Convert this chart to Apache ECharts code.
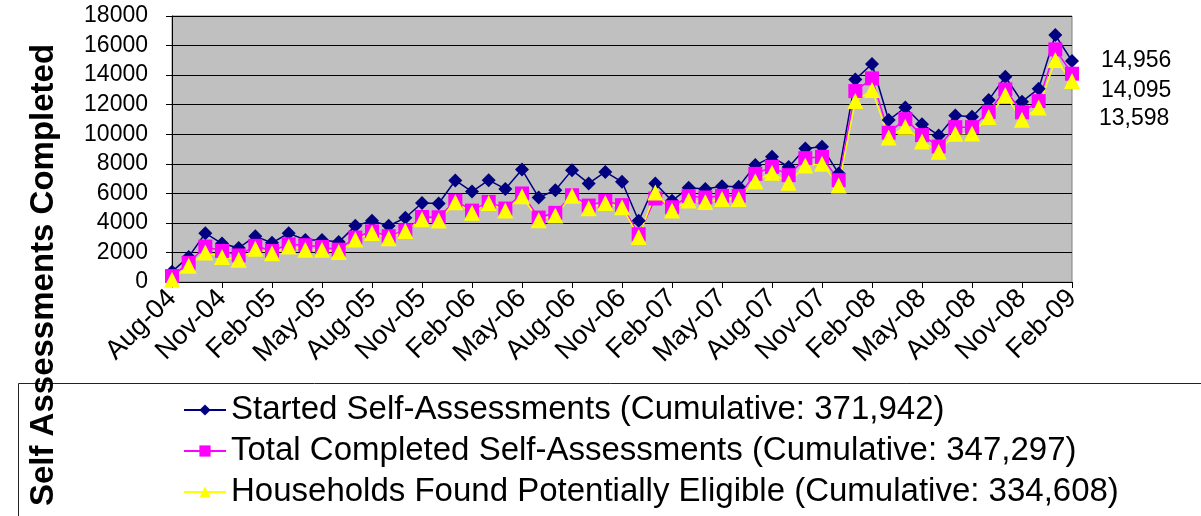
<!DOCTYPE html>
<html>
<head>
<meta charset="utf-8">
<script src="https://cdn.jsdelivr.net/npm/echarts@6/dist/echarts.min.js"></script>
<style>
  html, body { margin: 0; padding: 0; background: #fff; }
</style>
</head>
<body>
<div id="chart" style="width:1201px;height:516px"></div>

<script type="text/javascript">
var monthNames = ['Jan', 'Feb', 'Mar', 'Apr', 'May', 'Jun', 'Jul', 'Aug', 'Sep', 'Oct', 'Nov', 'Dec'];

// Aug-04 .. Feb-09, one per month
var months = [];
for (var y = 2004; y <= 2009; y++) {
    for (var m = 0; m < 12; m++) {
        if (y === 2004 && m < 7) continue;
        if (y === 2009 && m > 1) break;
        months.push(monthNames[m] + '-0' + (y % 100));
    }
}

var started = [700, 1700, 3300, 2600, 2300, 3100, 2650, 3300, 2850, 2850,
    2700, 3800, 4150, 3800, 4350, 5350, 5310, 6870, 6120, 6890,
    6300, 7610, 5720, 6210, 7570, 6670, 7450, 6780, 4140, 6670,
    5490, 6380, 6300, 6480, 6440, 7910, 8470, 7790, 9040, 9150,
    7340, 13710, 14750, 10960, 11810, 10680, 9920, 11270, 11180, 12310,
    13890, 12200, 13080, 16710, 14956];

var completed = [400, 1300, 2400, 2100, 1800, 2450, 2100, 2550, 2490, 2370,
    2190, 3010, 3430, 3100, 3500, 4400, 4380, 5500, 4830, 5420,
    4970, 5990, 4360, 4680, 5870, 5170, 5490, 5200, 3230, 5650,
    5060, 5810, 5720, 5830, 5830, 7320, 7790, 7230, 8380, 8470,
    6890, 12920, 13780, 10100, 11020, 9940, 9170, 10480, 10480, 11500,
    13030, 11480, 12240, 15740, 14095];

var eligible = [150, 1100, 2000, 1700, 1500, 2250, 1950, 2400, 2190, 2190,
    2030, 2870, 3320, 2960, 3450, 4250, 4170, 5400, 4680, 5350,
    4830, 5800, 4180, 4500, 5830, 4990, 5350, 5060, 3050, 6050,
    4830, 5510, 5420, 5620, 5620, 6820, 7390, 6710, 7890, 8000,
    6530, 12240, 12990, 9780, 10500, 9510, 8810, 10030, 10050, 11160,
    12650, 10980, 11810, 15020, 13598];

var seriesNames = [
    'Started Self-Assessments (Cumulative: 371,942)',
    'Total Completed Self-Assessments (Cumulative: 347,297)',
    'Households Found Potentially Eligible (Cumulative: 334,608)'
];

var FONT = 'Arial, "Liberation Sans", sans-serif';

// last point of each series gets a value label, nudged apart like the original
function withEndLabel(arr, dx, dy) {
    return arr.map(function (v, i) {
        if (i !== arr.length - 1) return v;
        return {
            value: v,
            label: {
                show: true,
                position: 'right',
                distance: 0,
                offset: [dx, dy],
                color: '#000',
                fontSize: 23,
                fontFamily: FONT,
                formatter: function (p) { return p.value.toLocaleString('en-US'); }
            }
        };
    });
}

var myChart = echarts.init(document.getElementById('chart'));

var option = {
    animation: false,
    backgroundColor: '#fff',
    grid: {
        left: 172,
        right: 129,
        top: 16,
        bottom: 234,
        show: true,
        backgroundColor: '#C0C0C0',
        borderColor: '#808080',
        borderWidth: 1
    },
    legend: {
        orient: 'vertical',
        left: 183,
        top: 391,
        padding: 0,
        itemWidth: 42,
        itemHeight: 14,
        itemGap: 3,
        textStyle: { fontSize: 33, fontFamily: FONT, color: '#000', lineHeight: 38 },
        data: seriesNames
    },
    graphic: [
        {
            type: 'rect',
            shape: { x: 18.5, y: 383.5, width: 1200, height: 200 },
            style: { fill: 'none', stroke: '#222', lineWidth: 1 },
            z: -1
        },
        {
            type: 'text',
            x: 44,
            y: 275,
            rotation: Math.PI / 2,
            style: {
                text: 'Self Assessments Completed',
                fontSize: 33,
                fontWeight: 'bold',
                fontFamily: FONT,
                fill: '#000',
                textAlign: 'center',
                textVerticalAlign: 'middle'
            },
            z: 10
        }
    ],
    xAxis: {
        type: 'category',
        boundaryGap: false,
        data: months,
        axisLine: { lineStyle: { color: '#000', width: 1 } },
        axisTick: { show: true, interval: 2, length: 6, lineStyle: { color: '#000' } },
        axisLabel: {
            interval: 2,
            rotate: 45,
            margin: 12,
            fontSize: 27,
            fontFamily: FONT,
            color: '#000'
        },
        splitLine: { show: false }
    },
    yAxis: {
        type: 'value',
        min: 0,
        max: 18000,
        interval: 2000,
        axisLine: { show: true, lineStyle: { color: '#000', width: 1 } },
        axisTick: { show: true, length: 6, lineStyle: { color: '#000' } },
        axisLabel: {
            margin: 24,
            fontSize: 23,
            fontFamily: FONT,
            color: '#000',
            formatter: function (v) { return String(v); }
        },
        splitLine: { show: true, lineStyle: { color: '#000', width: 1 } }
    },
    series: [
        {
            name: seriesNames[0],
            type: 'line',
            data: withEndLabel(started, 22, 0),
            symbol: 'diamond',
            symbolSize: 14,
            showAllSymbol: true,
            lineStyle: { color: '#000080', width: 1.5 },
            itemStyle: { color: '#000080' }
        },
        {
            name: seriesNames[1],
            type: 'line',
            data: withEndLabel(completed, 22, 17),
            symbol: 'rect',
            symbolSize: 14,
            showAllSymbol: true,
            lineStyle: { color: '#FF00FF', width: 1.5 },
            itemStyle: { color: '#FF00FF' }
        },
        {
            name: seriesNames[2],
            type: 'line',
            data: withEndLabel(eligible, 19, 38),
            symbol: 'triangle',
            symbolSize: 16,
            showAllSymbol: true,
            lineStyle: { color: '#FFFF00', width: 1.5 },
            itemStyle: { color: '#FFFF00' }
        }
    ]
};

if (option && typeof option === "object") {
    myChart.setOption(option, true);
}
</script>
</body>
</html>
